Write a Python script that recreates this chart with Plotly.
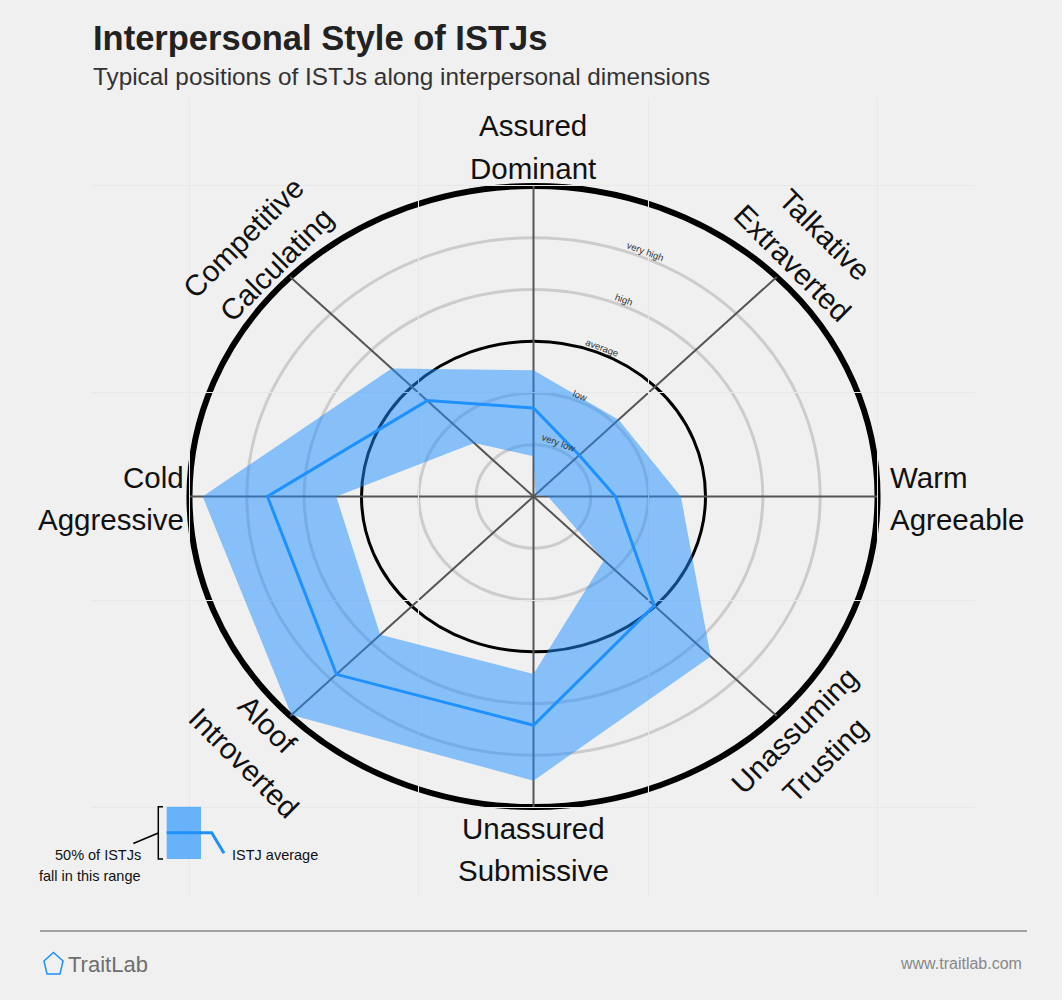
import numpy as np
import plotly.graph_objects as go

# ---------------- data ----------------
dimensions = ["Dominant", "Extraverted", "Agreeable", "Trusting",
              "Submissive", "Introverted", "Aggressive", "Calculating"]
angles_deg = [90, 45, 0, -45, -90, -135, 180, 135]
istj_average = [1.71, 1.13, 1.43, 2.98, 4.42, 4.86, 4.64, 2.62]
range_upper = [2.44, 2.10, 2.57, 4.37, 5.49, 5.97, 5.77, 3.50]
range_lower = [0.78, 0.05, 0.25, 1.74, 3.43, 3.78, 3.44, 1.46]
ring_levels = [1, 2, 3, 4, 5, 6]
ring_labels = ["very low", "low", "average", "high", "very high"]
axis_labels = [("Assured", "Dominant"), ("Talkative", "Extraverted"),
               ("Warm", "Agreeable"), ("Unassuming", "Trusting"),
               ("Unassured", "Submissive"), ("Aloof", "Introverted"),
               ("Cold", "Aggressive"), ("Competitive", "Calculating")]

FONT = "Liberation Sans, Arial, sans-serif"
BLUE = "#1e90ff"
BG = "#f0f0f0"

# pixel helpers (layout geometry only)
L, R, T, B = 92, 975, 98, 895
def PX(px):
    return (px - L) / (R - L)
def PY(py):
    return (B - py) / (B - T)


def to_xy(vals):
    a = np.radians(angles_deg)
    v = np.asarray(vals, dtype=float)
    x = list(v * np.cos(a)) + [v[0] * np.cos(a[0])]
    y = list(v * np.sin(a)) + [v[0] * np.sin(a[0])]
    return x, y


fig = go.Figure()

lx, ly = to_xy(range_lower)
ux, uy = to_xy(range_upper)
mx, my = to_xy(istj_average)

fig.add_trace(go.Scatter(x=lx, y=ly, mode="lines", line=dict(width=0, color="rgba(0,0,0,0)"),
                         hoverinfo="skip", showlegend=False))
fig.add_trace(go.Scatter(x=ux, y=uy, mode="lines", line=dict(width=0, color="rgba(0,0,0,0)"),
                         fill="tonext", fillcolor="rgba(30,144,255,0.5)",
                         hoverinfo="skip", showlegend=False))
fig.add_trace(go.Scatter(x=mx, y=my, mode="lines", line=dict(width=3, color=BLUE),
                         hoverinfo="skip", showlegend=False))

shapes = []
# rings
for lv in ring_levels:
    if lv == 6:
        col, w = "#000000", 6
    elif lv == 3:
        col, w = "#000000", 3
    else:
        col, w = "#cccccc", 3
    shapes.append(dict(type="circle", xref="x", yref="y", x0=-lv, x1=lv, y0=-lv, y1=lv,
                       line=dict(color=col, width=w), layer="below"))
# spokes
rmax = max(ring_levels)
for a in angles_deg:
    ar = np.radians(a)
    shapes.append(dict(type="line", xref="x", yref="y", x0=0, y0=0,
                       x1=rmax * np.cos(ar), y1=rmax * np.sin(ar),
                       line=dict(color="#555555", width=2), layer="below"))

annotations = []
# ring labels
la = np.radians(67.5)
for lv, txt in zip(ring_levels, ring_labels):
    r = lv + 0.12
    annotations.append(dict(x=r * np.cos(la), y=r * np.sin(la), xref="x", yref="y",
                            text=txt, showarrow=False, textangle=20.5,
                            font=dict(family=FONT, size=9.5, color="#333333")))

def lab(text, px, py, angle=0, xanchor="center", size=29.5, color="#111111"):
    annotations.append(dict(x=PX(px), y=PY(py), xref="paper", yref="paper", text=text,
                            showarrow=False, textangle=angle, xanchor=xanchor, yanchor="middle",
                            font=dict(family=FONT, size=size, color=color)))

# axis labels (two lines each)
lab(axis_labels[0][0], 533, 126); lab(axis_labels[0][1], 533, 168)
lab(axis_labels[1][0], 825, 234, 45); lab(axis_labels[1][1], 792, 263, 45)
lab(axis_labels[2][0], 888, 477, xanchor="left"); lab(axis_labels[2][1], 888, 519, xanchor="left")
lab(axis_labels[3][0], 794, 730, -45); lab(axis_labels[3][1], 824, 760, -45)
lab(axis_labels[4][0], 533, 828); lab(axis_labels[4][1], 533, 870)
lab(axis_labels[5][0], 268, 724, 45); lab(axis_labels[5][1], 244, 762, 45)
lab(axis_labels[6][0], 186, 477, xanchor="right"); lab(axis_labels[6][1], 186, 519, xanchor="right")
lab(axis_labels[7][0], 243, 237, -45); lab(axis_labels[7][1], 276, 264, -45)

# title / subtitle
lab("<b>Interpersonal Style of ISTJs</b>", 91, 38, xanchor="left", size=34.5, color="#222222")
lab("Typical positions of ISTJs along interpersonal dimensions", 91, 76, xanchor="left", size=24.3, color="#333333")

# legend
shapes.append(dict(type="rect", xref="paper", yref="paper", x0=PX(166.7), x1=PX(201),
                   y0=PY(859), y1=PY(806.7), fillcolor="rgba(30,144,255,0.65)", line=dict(width=0)))
shapes.append(dict(type="path", xref="paper", yref="paper",
                   path=f"M {PX(166.7)},{PY(832.7)} L {PX(211.7)},{PY(832.7)} L {PX(224)},{PY(853.3)}",
                   line=dict(color=BLUE, width=3)))
shapes.append(dict(type="path", xref="paper", yref="paper",
                   path=f"M {PX(163)},{PY(806.7)} L {PX(158.3)},{PY(806.7)} L {PX(158.3)},{PY(859)} L {PX(163)},{PY(859)}",
                   line=dict(color="#000000", width=1.5)))
shapes.append(dict(type="line", xref="paper", yref="paper", x0=PX(158.3), y0=PY(833),
                   x1=PX(133.3), y1=PY(843.5), line=dict(color="#000000", width=1.5)))
lab("50% of ISTJs", 142.7, 855, xanchor="right", size=14.5, color="#111111")
lab("fall in this range", 142.7, 876, xanchor="right", size=14.5, color="#111111")
lab("ISTJ average", 230, 855, xanchor="left", size=14.5, color="#111111")

# footer
shapes.append(dict(type="line", xref="paper", yref="paper", x0=PX(40), x1=PX(1027),
                   y0=PY(931), y1=PY(931), line=dict(color="#888888", width=1.5)))
shapes.append(dict(type="path", xref="paper", yref="paper",
                   path=(f"M {PX(53.5)},{PY(952.5)} L {PX(63)},{PY(961)} L {PX(60)},{PY(974)} "
                         f"L {PX(47)},{PY(974)} L {PX(44)},{PY(961)} Z"),
                   line=dict(color=BLUE, width=1.5)))
lab("TraitLab", 66, 964, xanchor="left", size=22, color="#6e6e6e")
lab("www.traitlab.com", 1024, 963, xanchor="right", size=16, color="#888888")

axis_common = dict(range=[-7.7, 7.7], tickvals=[-6, -2, 2, 6], showticklabels=False,
                   zeroline=False, showline=False, gridcolor="#e8e8e8", gridwidth=1,
                   fixedrange=True, ticks="")
fig.update_layout(
    width=1062, height=1000, autosize=False,
    margin=dict(l=L, r=1062 - R, t=T, b=1000 - B),
    paper_bgcolor=BG, plot_bgcolor=BG,
    xaxis=axis_common, yaxis=axis_common,
    shapes=shapes, annotations=annotations, showlegend=False,
)

fig.write_html("out.html", config={"displayModeBar": False},
               post_script="document.body.style.margin='0';document.body.style.overflow='hidden';")
